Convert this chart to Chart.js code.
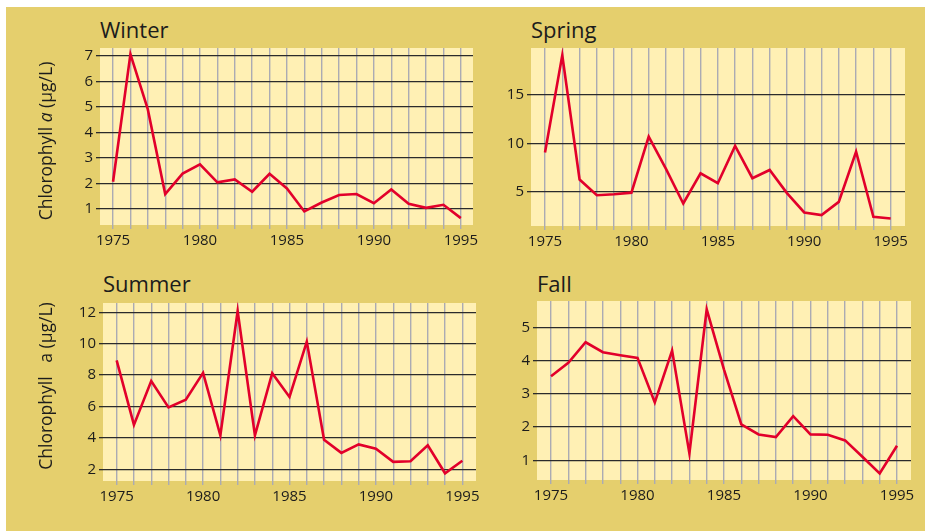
<!DOCTYPE html>
<html>
<head>
<meta charset="utf-8">
<script src="https://cdn.jsdelivr.net/npm/chart.js@4"></script>
<style>
  html, body { margin: 0; padding: 0; background: #fff; }
  #page { position: relative; width: 925px; height: 531px; overflow: hidden; }
  #gold { position: absolute; left: 6px; top: 7px; right: 0; bottom: 0; background: #E5CF6D; }
  canvas { position: absolute; }
  .title { position: absolute; font: 22px "Open Sans", sans-serif; line-height: 1; color: #1c1c1c; }
  .ylab { position: absolute; font: 17.5px "Open Sans", sans-serif; color: #1c1c1c; white-space: nowrap;
          transform: translate(-50%, -50%) rotate(-90deg); z-index: 2; }
</style>
</head>
<body>
<div id="page">
  <div id="gold"></div>
  <div class="title" style="left:100px; top:18px;">Winter</div>
  <div class="title" style="left:531px; top:18px;">Spring</div>
  <div class="title" style="left:103px; top:272px;">Summer</div>
  <div class="title" style="left:537px; top:272px;">Fall</div>
  <div class="ylab" style="left:45px; top:141px;">Chlorophyll <i>a</i> (µg/L)</div>
  <div class="ylab" style="left:45px; top:386px;">Chlorophyll&nbsp;&nbsp; a (µg/L)</div>
  <canvas id="winter"></canvas>
  <canvas id="spring"></canvas>
  <canvas id="summer"></canvas>
  <canvas id="fall"></canvas>
</div>
<script>
// data
const years = [1975, 1976, 1977, 1978, 1979, 1980, 1981, 1982, 1983, 1984, 1985,
               1986, 1987, 1988, 1989, 1990, 1991, 1992, 1993, 1994, 1995];
const yearLabels = [1975, 1980, 1985, 1990, 1995];

const winter = [2.07, 7.06, 4.9, 1.59, 2.39, 2.75, 2.05, 2.16, 1.68, 2.38, 1.81,
                0.91, 1.26, 1.55, 1.59, 1.23, 1.77, 1.21, 1.05, 1.17, 0.65];
const spring = [9.05, 19.08, 6.26, 4.63, 4.73, 4.9, 10.68, 7.35, 3.78, 6.9, 5.88,
                9.73, 6.39, 7.24, 4.86, 2.86, 2.59, 3.95, 9.12, 2.41, 2.24];
const summer = [8.94, 4.83, 7.62, 5.94, 6.44, 8.14, 4.16, 12.08, 4.16, 8.12, 6.61,
                10.13, 3.89, 3.05, 3.59, 3.32, 2.48, 2.52, 3.53, 1.75, 2.55];
const fall = [3.53, 3.93, 4.55, 4.25, 4.16, 4.08, 2.74, 4.3, 1.21, 5.54, 3.73,
              2.08, 1.78, 1.70, 2.33, 1.78, 1.77, 1.60, 1.11, 0.61, 1.44];

const winterTicks = [1, 2, 3, 4, 5, 6, 7];
const springTicks = [5, 10, 15];
const summerTicks = [2, 4, 6, 8, 10, 12];
const fallTicks = [1, 2, 3, 4, 5];

const font = { family: "'Open Sans', sans-serif", size: 15 };
const ink = "#1c1c1c";

// paint the pale plot area under the grid
const plotBg = {
  id: "plotBg",
  beforeDraw(chart) {
    const a = chart.chartArea, ctx = chart.ctx;
    ctx.save();
    ctx.fillStyle = "#FFF0B4";
    ctx.fillRect(a.left, a.top, a.right - a.left, a.bottom - a.top);
    ctx.restore();
  }
};

// box = plot area in page pixels
function panel(id, values, yTicks, box, yMin, yMax, xMin, xMax) {
  const padL = 60, padT = 10, padR = 20, padB = 40;
  const cv = document.getElementById(id);
  const w = box.r - box.l, h = box.b - box.t;
  cv.style.left = (box.l - padL) + "px";
  cv.style.top = (box.t - padT) + "px";
  cv.width = w + padL + padR;
  cv.height = h + padT + padB;

  new Chart(cv, {
    type: "line",
    data: {
      datasets: [{
        data: years.map((yr, i) => ({ x: yr, y: values[i] })),
        borderColor: "#E2002B",
        borderWidth: 2.6,
        pointRadius: 0,
        tension: 0,
        clip: false
      }]
    },
    options: {
      responsive: false,
      animation: false,
      layout: { padding: { left: 0, top: padT, right: padR, bottom: 0 } },
      plugins: { legend: { display: false }, tooltip: { enabled: false } },
      scales: {
        x: {
          type: "linear",
          min: xMin, max: xMax,
          afterBuildTicks: ax => { ax.ticks = years.map(v => ({ value: v })); },
          afterFit: ax => { ax.height = padB; },
          ticks: {
            autoSkip: false, maxRotation: 0, padding: 3, color: ink, font: font,
            callback: v => yearLabels.includes(v) ? String(v) : ""
          },
          grid: { color: "#ABABB3", lineWidth: 1.4, tickLength: 4 },
          border: { display: false }
        },
        y: {
          min: yMin, max: yMax,
          afterBuildTicks: ax => { ax.ticks = yTicks.map(v => ({ value: v })); },
          afterFit: ax => { ax.width = padL; },
          ticks: { padding: 3, color: ink, font: font },
          grid: { color: "#2b2b2b", lineWidth: 1.3, tickLength: 4 },
          border: { display: false }
        }
      }
    },
    plugins: [plotBg]
  });
}

panel("winter", winter, winterTicks, { l: 100, t: 46, r: 473, b: 225 }, 0.38, 7.3, 1974.25, 1995.7);
panel("spring", spring, springTicks, { l: 531, t: 46, r: 905, b: 226 }, 1.46, 19.83, 1974.19, 1995.83);
panel("summer", summer, summerTicks, { l: 103, t: 301, r: 476, b: 481 }, 1.26, 12.59, 1974.21, 1995.79);
panel("fall", fall, fallTicks, { l: 537, t: 299, r: 911, b: 480 }, 0.41, 5.79, 1974.19, 1995.81);
</script>
</body>
</html>
